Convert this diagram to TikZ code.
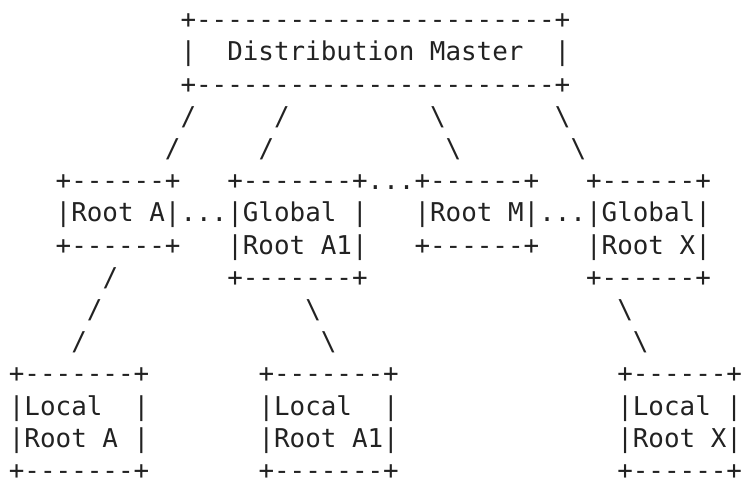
\documentclass[tikz,border=0pt]{standalone}
\usepackage{fontspec}
\setmonofont{DejaVu Sans Mono}
\definecolor{ink}{RGB}{34,34,34}
% character grid: cell width, line pitch, left edge of column 0, baseline of row 1
\newcommand{\cw}{15.6}
\newcommand{\lp}{32.2}
\newcommand{\xo}{8.9}
\newcommand{\yo}{452.3}
\tikzset{
  asc/.style={anchor=base west, inner sep=0pt, outer sep=0pt, text=ink,
    text depth=0pt, font=\ttfamily\fontsize{25.9}{32.2}\selectfont},
}
% \seg{name}{column}{row}{text}
\newcommand{\seg}[4]{\node[asc] (#1) at ({(\xo+#2*\cw)*1pt},{(\yo-(#3-1)*\lp)*1pt}) {#4};}
\newcommand{\bs}{\textbackslash}
\begin{document}
\begin{tikzpicture}[x=1pt,y=1pt]
\useasboundingbox (0,0) rectangle (743,481);
% Distribution Master
\seg{dmtop}{11}{1}{+-----------------------+}
\seg{dmmid}{11}{2}{|~~Distribution Master~~|}
\seg{dmbot}{11}{3}{+-----------------------+}
% links from the master
\seg{la1}{11}{4}{/}
\seg{lb1}{17}{4}{/}
\seg{lc1}{27}{4}{\bs}
\seg{ld1}{35}{4}{\bs}
\seg{la2}{10}{5}{/}
\seg{lb2}{16}{5}{/}
\seg{lc2}{28}{5}{\bs}
\seg{ld2}{36}{5}{\bs}
% root row
\seg{ratop}{3}{6}{+------+}
\seg{ramid}{3}{7}{|Root A|}
\seg{rabot}{3}{8}{+------+}
\seg{dots1}{11}{7}{...}
\seg{gatop}{14}{6}{+-------+}
\seg{gal1}{14}{7}{|Global~|}
\seg{gal2}{14}{8}{|Root A1|}
\seg{gabot}{14}{9}{+-------+}
\seg{dots2}{23}{6}{...}
\seg{rmtop}{26}{6}{+------+}
\seg{rmmid}{26}{7}{|Root M|}
\seg{rmbot}{26}{8}{+------+}
\seg{dots3}{34}{7}{...}
\seg{gxtop}{37}{6}{+------+}
\seg{gxl1}{37}{7}{|Global|}
\seg{gxl2}{37}{8}{|Root X|}
\seg{gxbot}{37}{9}{+------+}
% links to the local roots
\seg{le1}{6}{9}{/}
\seg{le2}{5}{10}{/}
\seg{le3}{4}{11}{/}
\seg{lf1}{19}{10}{\bs}
\seg{lf2}{20}{11}{\bs}
\seg{lg1}{39}{10}{\bs}
\seg{lg2}{40}{11}{\bs}
% local roots
\seg{latop}{0}{12}{+-------+}
\seg{lal1}{0}{13}{|Local~~|}
\seg{lal2}{0}{14}{|Root A~|}
\seg{labot}{0}{15}{+-------+}
\seg{l1top}{16}{12}{+-------+}
\seg{l1l1}{16}{13}{|Local~~|}
\seg{l1l2}{16}{14}{|Root A1|}
\seg{l1bot}{16}{15}{+-------+}
\seg{lxtop}{39}{12}{+------+}
\seg{lxl1}{39}{13}{|Local~|}
\seg{lxl2}{39}{14}{|Root X|}
\seg{lxbot}{39}{15}{+------+}
\end{tikzpicture}
\end{document}
